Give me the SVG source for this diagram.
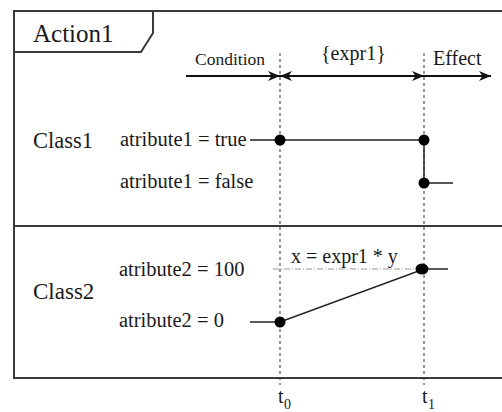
<svg xmlns="http://www.w3.org/2000/svg" width="502" height="412" viewBox="0 0 502 412">
<style>
.frame{fill:none;stroke:#3a3a3a;stroke-width:2}
.tl{fill:none;stroke:#222;stroke-width:1.5}
.dash{fill:none;stroke:#333;stroke-width:1;stroke-dasharray:3,3}
.arr{fill:none;stroke:#111;stroke-width:2}
.dot{fill:#000}
</style>
<defs>
<marker id="ah" viewBox="0 0 12 10" refX="12" refY="5" markerWidth="12" markerHeight="10" markerUnits="userSpaceOnUse" orient="auto-start-reverse">
<path d="M0,0 L12,5 L0,10 L3.5,5 z" fill="#111"/>
</marker>
</defs>
<rect width="502" height="412" fill="#fff"/>
<g fill="#1a1a1a">
<g id="frame">
<path class="frame" d="M502,11 H14 V378 H502"/>
<path class="frame" d="M14,52 H141 L153,33 V11"/>
<line class="frame" x1="14" y1="226" x2="502" y2="226"/>
<text x="33" y="42" font-size="25" font-family="Liberation Serif, serif">Action1</text>
</g>
<g id="timing">
<line class="dash" x1="280" y1="53" x2="280" y2="385"/>
<line class="dash" x1="424" y1="53" x2="424" y2="385"/>
<text x="278" y="403" font-size="20" font-family="Liberation Serif, serif">t</text>
<text x="284" y="409" font-size="14" font-family="Liberation Serif, serif">0</text>
<text x="422" y="403" font-size="20" font-family="Liberation Serif, serif">t</text>
<text x="428" y="409" font-size="14" font-family="Liberation Serif, serif">1</text>
</g>
<g id="phases">
<line class="arr" x1="186" y1="76" x2="280" y2="76" marker-end="url(#ah)"/>
<line class="arr" x1="280" y1="76" x2="424" y2="76" marker-start="url(#ah)" marker-end="url(#ah)"/>
<line class="arr" x1="424" y1="76" x2="491" y2="76" marker-end="url(#ah)"/>
<text x="195" y="65" font-size="17.5" font-family="Liberation Serif, serif">Condition</text>
<text x="321" y="60" font-size="20" font-family="Liberation Serif, serif">{expr1}</text>
<text x="433" y="65" font-size="20" font-family="Liberation Serif, serif">Effect</text>
</g>
<g id="class1">
<text x="33" y="148" font-size="22.5" font-family="Liberation Serif, serif">Class1</text>
<text x="120" y="146" font-size="20.5" font-family="Liberation Serif, serif">atribute1 = true</text>
<text x="120" y="188" font-size="20.5" font-family="Liberation Serif, serif">atribute1 = false</text>
</g>
<g id="class2">
<text x="33" y="299" font-size="23" font-family="Liberation Serif, serif">Class2</text>
<text x="119" y="276" font-size="20.5" font-family="Liberation Serif, serif">atribute2 = 100</text>
<text x="119" y="327" font-size="20.5" font-family="Liberation Serif, serif">atribute2 = 0</text>
<text x="291" y="263" font-size="20" font-family="Liberation Serif, serif">x = expr1 * y</text>
</g>
<g id="connectors">
<polyline class="tl" points="250,140 424,140 424,183 453,183"/>
<line x1="273" y1="269" x2="424" y2="269" stroke="#999" stroke-width="1" stroke-dasharray="6,2,1,2"/>
<polyline class="tl" points="250,322 280,322 424,269 448,269"/>
<circle class="dot" cx="280" cy="140" r="5.5"/>
<circle class="dot" cx="424" cy="140" r="5.5"/>
<circle class="dot" cx="424" cy="183" r="5.5"/>
<circle class="dot" cx="280" cy="322" r="5.5"/>
<ellipse class="dot" cx="422" cy="269" rx="6.5" ry="5.5"/>
</g>
</g>
</svg>
